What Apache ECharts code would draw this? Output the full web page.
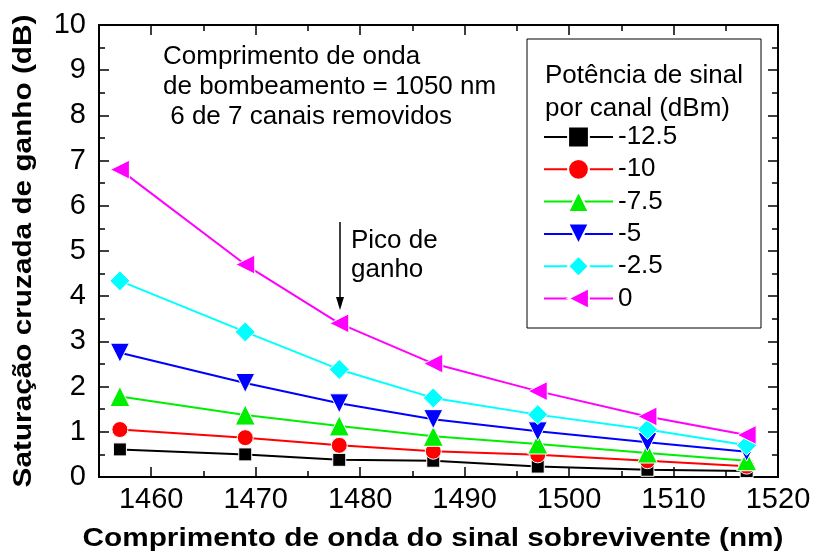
<!DOCTYPE html>
<html>
<head>
<meta charset="utf-8">
<script src="https://cdn.jsdelivr.net/npm/echarts@6/dist/echarts.min.js"></script>
<style>
  html, body { margin: 0; padding: 0; background: #fff; }
  #chart { width: 814px; height: 555px; }
</style>
</head>
<body>
<div id="chart"></div>
<script>
// comprimento de onda (nm)
var wavelengths = [1457, 1469, 1478, 1487, 1497, 1507.5, 1517];
// saturação cruzada (dB) por potência de sinal
var pw125 = [0.61, 0.50, 0.38, 0.36, 0.23, 0.16, 0.13];
var pw10 = [1.05, 0.87, 0.70, 0.57, 0.49, 0.36, 0.24];
var pw75 = [1.78, 1.37, 1.13, 0.90, 0.73, 0.53, 0.36];
var pw5 = [2.75, 2.08, 1.63, 1.28, 1.01, 0.77, 0.56];
var pw25 = [4.34, 3.21, 2.38, 1.75, 1.38, 1.05, 0.70];
var pw0 = [6.80, 4.70, 3.40, 2.51, 1.90, 1.34, 0.93];

var seriesNames = ['-12.5', '-10', '-7.5', '-5', '-2.5', '0'];
var majorTicks = [1460, 1470, 1480, 1490, 1500, 1510, 1520];
var minorTicks = [1455, 1465, 1475, 1485, 1495, 1505, 1515];

var font = 'Liberation Sans, Arial, sans-serif';

function pairs(ys) {
  return wavelengths.map(function (x, i) { return [x, ys[i]]; });
}

function makeSeries(name, ys, color, symbol, size, rotate) {
  return {
    name: name,
    type: 'line',
    xAxisIndex: 0,
    yAxisIndex: 0,
    data: pairs(ys),
    symbol: symbol,
    symbolSize: size,
    symbolRotate: rotate || 0,
    showAllSymbol: true,
    lineStyle: { color: color, width: 2 },
    itemStyle: { color: color, borderColor: '#fff', borderWidth: 1 },
    emphasis: { disabled: true },
    animation: false,
    z: 3
  };
}

function xAx(pos, ticks, len, labels) {
  return {
    type: 'value',
    position: pos,
    min: 1455,
    max: 1520,
    axisLine: { show: true, onZero: false, lineStyle: { color: '#000', width: 2 } },
    axisTick: { show: true, inside: true, length: len, customValues: ticks, lineStyle: { color: '#000', width: 1.5 } },
    axisLabel: labels ? {
      show: true, customValues: ticks, fontSize: 29, color: '#000', fontFamily: font, margin: 8,
      formatter: function (v) { return String(v); }
    } : { show: false },
    splitLine: { show: false }
  };
}

function yAx(pos, labels) {
  return {
    type: 'value',
    position: pos,
    min: 0,
    max: 10,
    interval: 1,
    axisLine: { show: true, lineStyle: { color: '#000', width: 2 } },
    axisTick: { show: true, inside: true, length: 10, lineStyle: { color: '#000', width: 1.5 } },
    minorTick: { show: true, splitNumber: 2, length: 6, lineStyle: { color: '#000', width: 1.5 } },
    axisLabel: labels ? { show: true, fontSize: 29, color: '#000', fontFamily: font, margin: 13 } : { show: false },
    splitLine: { show: false },
    minorSplitLine: { show: false }
  };
}

var chart = echarts.init(document.getElementById('chart'), null, { renderer: 'canvas' });

var option = {
  backgroundColor: '#fff',
  animation: false,
  grid: { left: 99, right: 36, top: 25, bottom: 78 },
  xAxis: [
    xAx('bottom', majorTicks, 10, true),
    xAx('bottom', minorTicks, 6, false),
    xAx('top', majorTicks, 10, false),
    xAx('top', minorTicks, 6, false)
  ],
  yAxis: [yAx('left', true), yAx('right', false)],
  legend: {
    orient: 'vertical',
    left: 543,
    top: 124,
    padding: 0,
    itemWidth: 69,
    itemHeight: 26,
    itemGap: 6.3,
    selectedMode: false,
    data: seriesNames,
    textStyle: { fontSize: 26, lineHeight: 26, color: '#000', fontFamily: font }
  },
  graphic: [
    // titulos dos eixos
    {
      type: 'text', x: 433, y: 539, scaleX: 1.19,
      style: { text: 'Comprimento de onda do sinal sobrevivente (nm)', font: 'bold 25px ' + font, fill: '#000', align: 'center', verticalAlign: 'middle' }
    },
    {
      type: 'text', x: 24, y: 251, rotation: Math.PI / 2, scaleX: 1.19,
      style: { text: 'Saturação cruzada de ganho (dB)', font: 'bold 25px ' + font, fill: '#000', align: 'center', verticalAlign: 'middle' }
    },
    // caixa da legenda
    { type: 'rect', shape: { x: 527, y: 39, width: 234, height: 289 }, style: { fill: 'none', stroke: '#000', lineWidth: 1 }, z: 1 },
    { type: 'text', left: 545, top: 59, style: { text: 'Potência de sinal\npor canal (dBm)', font: '26px ' + font, fill: '#000', lineHeight: 33 } },
    { type: 'text', left: 163, top: 42, style: { text: 'Comprimento de onda\nde bombeamento = 1050 nm\n 6 de 7 canais removidos', font: '26px ' + font, fill: '#000', lineHeight: 30 } },
    { type: 'text', left: 351, top: 226, style: { text: 'Pico de\nganho', font: '26px ' + font, fill: '#000', lineHeight: 29 } },
    // seta
    { type: 'line', shape: { x1: 340, y1: 222, x2: 340, y2: 300 }, style: { stroke: '#000', lineWidth: 1.5 } },
    { type: 'polygon', shape: { points: [[336, 297], [344, 297], [340, 310]] }, style: { fill: '#000' } }
  ],
  series: [
    makeSeries(seriesNames[0], pw125, '#000000', 'rect', 13),
    makeSeries(seriesNames[1], pw10, '#ff0000', 'circle', 16),
    makeSeries(seriesNames[2], pw75, '#00ee00', 'triangle', 20),
    makeSeries(seriesNames[3], pw5, '#0000ff', 'triangle', 19, 180),
    makeSeries(seriesNames[4], pw25, '#00ffff', 'diamond', 20),
    makeSeries(seriesNames[5], pw0, '#ff00ff', 'triangle', 19, 90)
  ]
};

chart.setOption(option);
</script>
</body>
</html>
